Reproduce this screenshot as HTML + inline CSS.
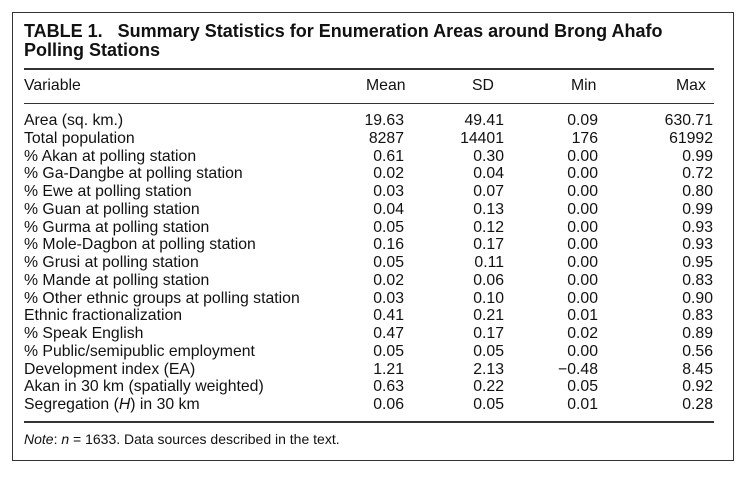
<!DOCTYPE html>
<html><head><meta charset="utf-8"><style>
body{margin:0;width:740px;height:478px;background:#fff;font-family:"Liberation Sans",Arial,sans-serif;color:#111;position:relative;overflow:hidden}
.box{position:absolute;left:12px;top:12px;width:722px;height:449px;border:1px solid #333;box-sizing:border-box}
.t{position:absolute;left:24px;font-weight:bold;font-size:18px;line-height:19px}
.rule{position:absolute;left:24px;width:690px;height:1px;background:#333}
.r{position:absolute;font-size:15.8px;line-height:17.75px;white-space:nowrap}
.n{text-align:right;width:80px}
</style></head><body>
<div class="box"></div>
<div class="t" style="top:22px">TABLE 1.&nbsp;&nbsp;&nbsp;Summary Statistics for Enumeration Areas around Brong Ahafo<br>Polling Stations</div>
<div class="rule" style="top:68px;height:1.5px"></div>
<div class="r" style="left:24px;top:77px">Variable</div>
<div class="r" style="left:366px;top:77px">Mean</div>
<div class="r" style="left:472px;top:77px">SD</div>
<div class="r" style="left:571px;top:77px">Min</div>
<div class="r" style="left:676px;top:77px">Max</div>
<div class="rule" style="top:103px"></div>
<div id="rows"></div>
<div class="rule" style="top:421px;height:1.5px"></div>
<div class="r" style="left:24px;top:431px;font-size:14px"><i>Note</i>: <i>n</i> = 1633. Data sources described in the text.</div>
<script>
const labels=["Area (sq. km.)","Total population","% Akan at polling station","% Ga-Dangbe at polling station","% Ewe at polling station","% Guan at polling station","% Gurma at polling station","% Mole-Dagbon at polling station","% Grusi at polling station","% Mande at polling station","% Other ethnic groups at polling station","Ethnic fractionalization","% Speak English","% Public/semipublic employment","Development index (EA)","Akan in 30 km (spatially weighted)","Segregation (<i>H</i>) in 30 km"];
const means=["19.63","8287","0.61","0.02","0.03","0.04","0.05","0.16","0.05","0.02","0.03","0.41","0.47","0.05","1.21","0.63","0.06"];
const sds=["49.41","14401","0.30","0.04","0.07","0.13","0.12","0.17","0.11","0.06","0.10","0.21","0.17","0.05","2.13","0.22","0.05"];
const mins=["0.09","176","0.00","0.00","0.00","0.00","0.00","0.00","0.00","0.00","0.00","0.01","0.02","0.00","\u22120.48","0.05","0.01"];
const maxs=["630.71","61992","0.99","0.72","0.80","0.99","0.93","0.93","0.95","0.83","0.90","0.83","0.89","0.56","8.45","0.92","0.28"];
const root=document.getElementById('rows');
const cols=[[means,324,'mean'],[sds,424,'sd'],[mins,518,'min'],[maxs,633,'max']];
labels.forEach((l,i)=>{
  const top=112+i*17.75;
  const d=document.createElement('div');d.className='r';d.style.left='24px';d.style.top=top+'px';d.innerHTML=l;
  
  
  root.appendChild(d);
  cols.forEach(([arr,x,nm])=>{
    const c=document.createElement('div');c.className='r n';c.style.left=x+'px';c.style.top=top+'px';c.textContent=arr[i];
    
    
    root.appendChild(c);
  });
});
</script>
</body></html>
